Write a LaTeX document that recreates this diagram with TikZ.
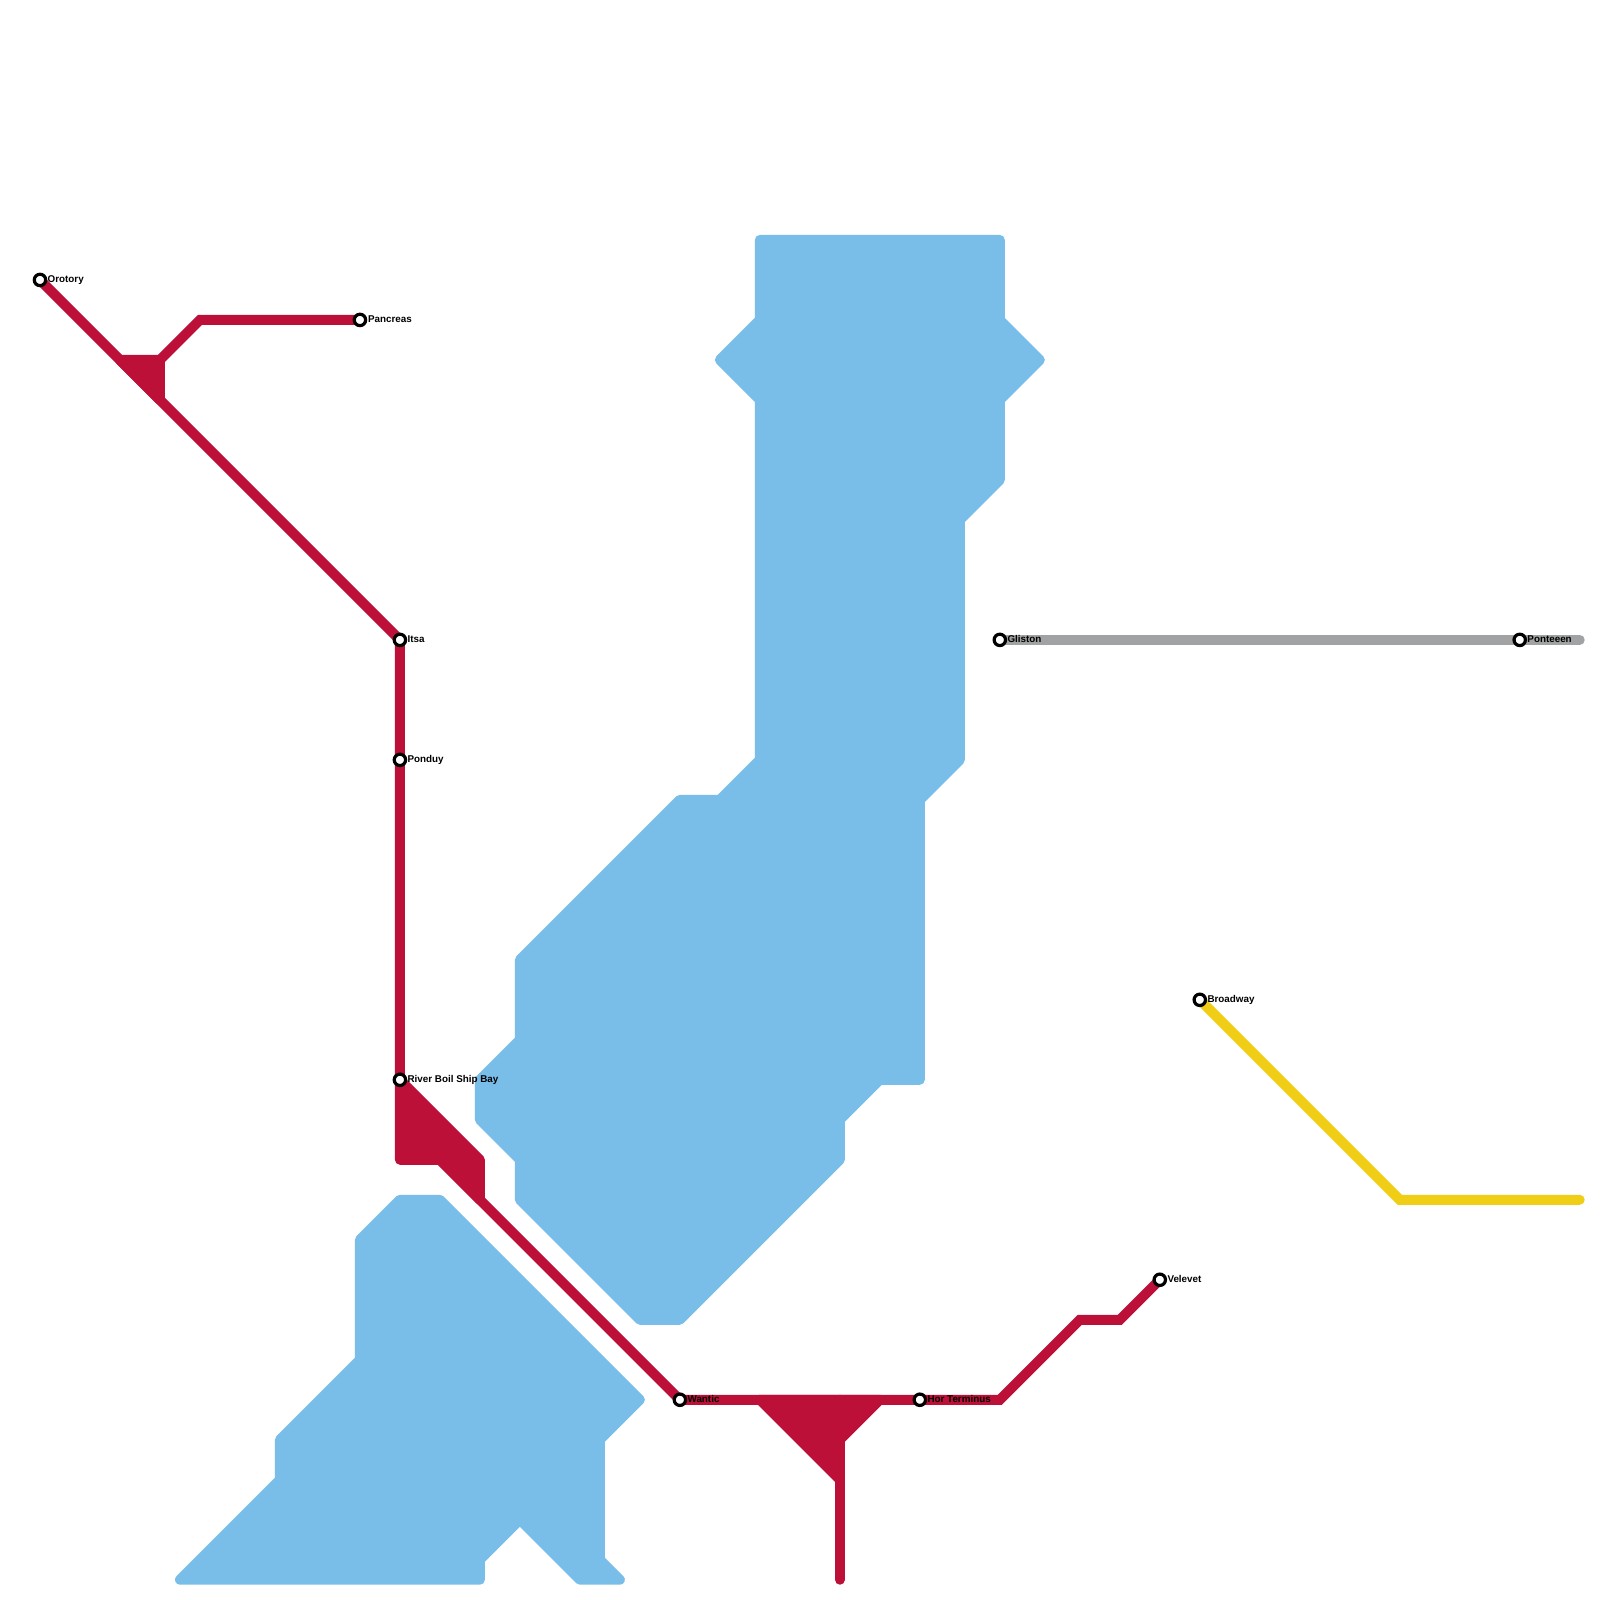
\documentclass[tikz,border=0pt]{standalone}
\usepackage{fontspec}
\setmainfont{Liberation Sans}
\usetikzlibrary{backgrounds}
\definecolor{water}{HTML}{79BDE9}
\definecolor{redline}{HTML}{BD1038}
\definecolor{yellowline}{HTML}{F0CE15}
\definecolor{grayline}{HTML}{A1A2A3}

\begin{document}
\begin{tikzpicture}[
  x=0.1mm, y=-0.1mm,
  stn/.style={circle, draw=black, fill=white, line width=0.32mm, minimum size=1.14mm, inner sep=0pt},
  stnlabel/.style={anchor=base west, inner sep=0pt, font=\fontsize{2.8}{3}\selectfont\bfseries},
  metro/.style={line width=1mm, line cap=round, line join=miter},
  blob/.style={line width=1mm, line join=round, fill=#1, draw=#1,
               preaction={draw=#1, line join=miter, miter limit=1.2}},
]
  \useasboundingbox (0,0) rectangle (1600,1600.3);

  % stations
  \node[stn] (orotory) at (40,280) {};
  \node[stn] (pancreas) at (360,320) {};
  \node[stn] (itsa) at (400,640) {};
  \node[stn] (ponduy) at (400,760) {};
  \node[stn] (riverboil) at (400,1080) {};
  \node[stn] (wantic) at (680,1400) {};
  \node[stn] (horterminus) at (920,1400) {};
  \node[stn] (velevet) at (1160,1280) {};
  \node[stn] (gliston) at (1000,640) {};
  \node[stn] (ponteeen) at (1520,640) {};
  \node[stn] (broadway) at (1200,1000) {};

  % bends and free ends
  \coordinate (pancreasbend) at (200,320);
  \coordinate (pancreasjoin) at (160,360);
  \coordinate (riverturn) at (440,1160);
  \coordinate (southend) at (840,1580);
  \coordinate (southjoin) at (840,1400);
  \coordinate (eastbend) at (1000,1400);
  \coordinate (eastupper) at (1080,1320);
  \coordinate (eastflat) at (1120,1320);
  \coordinate (grayend) at (1580,640);
  \coordinate (yellowbend) at (1400,1200);
  \coordinate (yellowend) at (1580,1200);

  \begin{scope}[on background layer]
    \fill[white] (0,0) rectangle (1600,1600.3);

    % water
    \filldraw[blob=water] (760,240) -- (1000,240) -- (1000,320) -- (1040,360) -- (1000,400)
      -- (1000,480) -- (960,520) -- (960,760) -- (920,800) -- (920,1080) -- (880,1080)
      -- (840,1120) -- (840,1160) -- (680,1320) -- (640,1320) -- (520,1200) -- (520,1160)
      -- (480,1120) -- (480,1080) -- (520,1040) -- (520,960) -- (680,800) -- (720,800)
      -- (760,760) -- (760,400) -- (720,360) -- (760,320) -- cycle;
    \filldraw[blob=water] (400,1200) -- (440,1200) -- (640,1400) -- (600,1440) -- (600,1560)
      -- (620,1580) -- (580,1580) -- (520,1520) -- (480,1560) -- (480,1580) -- (180,1580)
      -- (280,1480) -- (280,1440) -- (360,1360) -- (360,1240) -- cycle;

    % red blobs
    \filldraw[blob=redline] (120,360) -- (160,360) -- (160,400) -- cycle;
    \filldraw[blob=redline] (400,1080) -- (480,1160) -- (480,1200) -- (440,1160) -- (400,1160) -- cycle;
    \filldraw[blob=redline] (760,1400) -- (880,1400) -- (840,1440) -- (840,1480) -- cycle;

    % lines
    \draw[metro, redline] (orotory.center) -- (itsa.center) -- (ponduy.center) -- (riverboil.center);
    \draw[metro, redline] (pancreas.center) -- (pancreasbend) -- (pancreasjoin);
    \draw[metro, redline] (riverturn) -- (wantic.center) -- (horterminus.center)
      -- (eastbend) -- (eastupper) -- (eastflat) -- (velevet.center);
    \draw[metro, redline] (southjoin) -- (southend);
    \draw[metro, grayline] (gliston.center) -- (ponteeen.center) -- (grayend);
    \draw[metro, yellowline] (broadway.center) -- (yellowbend) -- (yellowend);
  \end{scope}

  % labels
  \node[stnlabel] (orotorylabel) at (47,282.7) {Orotory};
  \node[stnlabel] (pancreaslabel) at (367.5,322.7) {Pancreas};
  \node[stnlabel] (itsalabel) at (407,642.7) {Itsa};
  \node[stnlabel] (ponduylabel) at (407,762.7) {Ponduy};
  \node[stnlabel] (riverboillabel) at (407,1082.7) {River Boil Ship Bay};
  \node[stnlabel] (wanticlabel) at (687,1402.7) {Wantic};
  \node[stnlabel] (horterminuslabel) at (927,1402.7) {Hor Terminus};
  \node[stnlabel] (velevetlabel) at (1167,1282.7) {Velevet};
  \node[stnlabel] (glistonlabel) at (1007,642.7) {Gliston};
  \node[stnlabel] (ponteeenlabel) at (1527,642.7) {Ponteeen};
  \node[stnlabel] (broadwaylabel) at (1207,1002.7) {Broadway};
\end{tikzpicture}
\end{document}
